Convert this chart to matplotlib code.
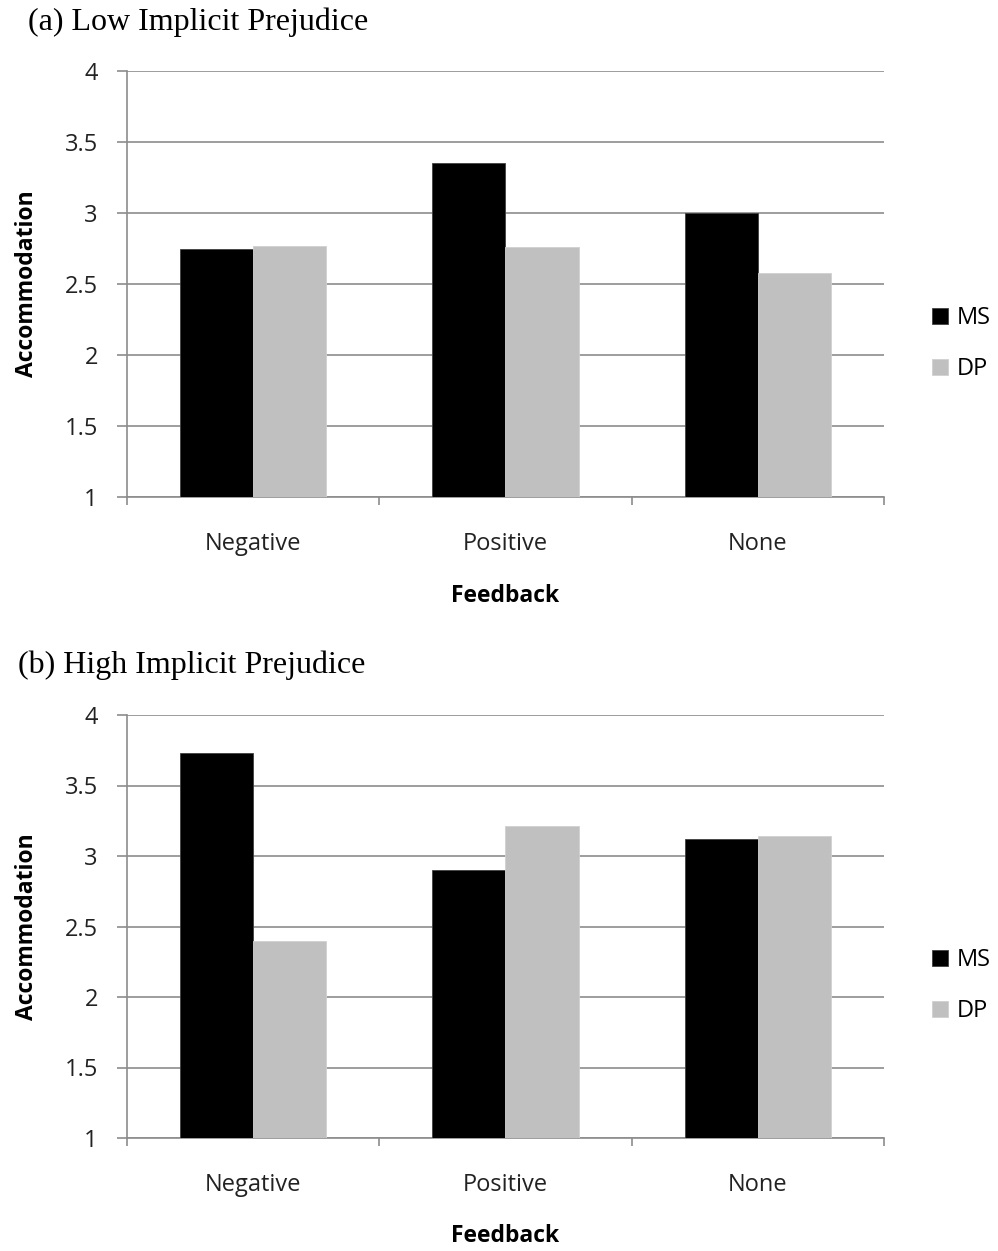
import matplotlib.pyplot as plt
import numpy as np

categories = ["Negative", "Positive", "None"]
series = ["MS", "DP"]
low_ms = [2.75, 3.35, 3.00]
low_dp = [2.77, 2.76, 2.58]
high_ms = [3.73, 2.90, 3.12]
high_dp = [2.40, 3.21, 3.14]
yticks = [1, 1.5, 2, 2.5, 3, 3.5, 4]
ytick_labels = ["1", "1.5", "2", "2.5", "3", "3.5", "4"]

COLORS = {"MS": "#000000", "DP": "#c0c0c0"}
SANS = ["Open Sans", "DejaVu Sans"]
SERIF = ["Liberation Serif", "DejaVu Serif"]

W, H = 998, 1251
fig = plt.figure(figsize=(W / 100, H / 100), dpi=100)


def px_axes(left, top, right, bottom):
    return fig.add_axes([left / W, 1 - bottom / H, (right - left) / W, (bottom - top) / H])


def draw_panel(ax, ms, dp, title, title_x, title_y):
    x = np.arange(len(categories))
    bw = 0.29
    ax.bar(x - bw / 2, np.array(ms) - 1, bw, bottom=1, color=COLORS["MS"],
           edgecolor="#404040", linewidth=0.6, label="MS", zorder=3)
    ax.bar(x + bw / 2, np.array(dp) - 1, bw, bottom=1, color=COLORS["DP"],
           edgecolor="#d0d0d0", linewidth=0.6, label="DP", zorder=3)
    ax.set_xlim(-0.5, len(categories) - 0.5)
    ax.set_ylim(1, 4)
    ax.set_yticks(yticks)
    ax.set_yticklabels(ytick_labels, fontsize=17, family=SANS, color="#222222")
    ax.yaxis.grid(True, color="#8c8c8c", linewidth=1.2, zorder=0)
    ax.set_axisbelow(True)
    ax.set_xticks(x)
    ax.set_xticklabels(categories, fontsize=17, family=SANS, color="#222222")
    ax.set_xticks(np.arange(-0.5, len(categories)), minor=True)
    ax.tick_params(axis="x", which="major", length=0, pad=25)
    ax.tick_params(axis="x", which="minor", length=6, color="#8c8c8c", width=1.2)
    ax.tick_params(axis="y", length=7, color="#8c8c8c", width=1.2, pad=14)
    for s in ["top", "right"]:
        ax.spines[s].set_visible(False)
    for s in ["left", "bottom"]:
        ax.spines[s].set_color("#8c8c8c")
        ax.spines[s].set_linewidth(1.2)
    ax.set_ylabel("Accommodation", fontsize=16.5, family=SANS, fontweight="bold", labelpad=18)
    ax.set_xlabel("Feedback", fontsize=16.5, family=SANS, fontweight="bold", labelpad=20)
    ax.legend(loc="center left", bbox_to_anchor=(1.035, 0.36), frameon=False,
              prop={"family": SANS, "size": 17}, handlelength=0.7, handleheight=0.7,
              handletextpad=0.35, labelspacing=1.15)
    fig.text(title_x / W, 1 - title_y / H, title, fontsize=23, family=SERIF, va="center", ha="left")


ax1 = px_axes(127, 71, 884, 497)
draw_panel(ax1, low_ms, low_dp, "(a) Low Implicit Prejudice", 28, 22)

ax2 = px_axes(127, 715, 884, 1138)
draw_panel(ax2, high_ms, high_dp, "(b) High Implicit Prejudice", 18, 665)

fig.savefig("out.png", dpi=100)
